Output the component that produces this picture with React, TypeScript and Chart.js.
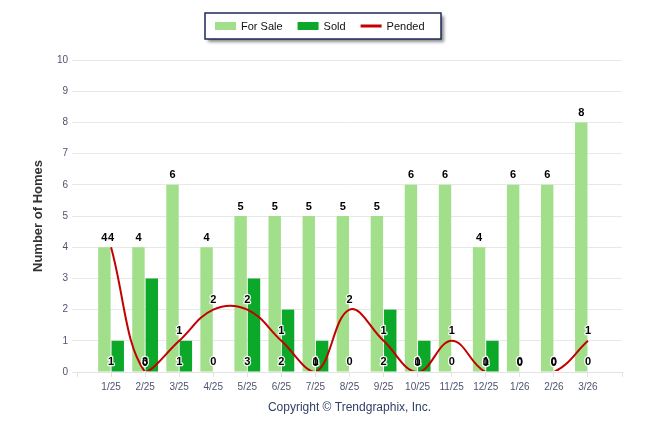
import { useEffect, useRef } from 'react';
import { Chart, registerables } from 'chart.js';

Chart.register(...registerables);

const categories = ['1/25', '2/25', '3/25', '4/25', '5/25', '6/25', '7/25', '8/25', '9/25', '10/25', '11/25', '12/25', '1/26', '2/26', '3/26'];
const forSale = [4, 4, 6, 4, 5, 5, 5, 5, 5, 6, 6, 4, 6, 6, 8];
const sold = [1, 3, 1, 0, 3, 2, 1, 0, 2, 1, 0, 1, 0, 0, 0];
const pended = [4, 0, 1, 2, 2, 1, 0, 2, 1, 0, 1, 0, 0, 0, 1];
const yMin = 0;
const yMax = 10;
const yStep = 1;

const FONT = '"Liberation Sans", Arial, sans-serif';
const pad = (a: number[]) => [null, ...a, null];

const legendPlugin = {
  id: 'boxLegend',
  afterDraw(chart: any) {
    const ctx = chart.ctx;
    const boxL = 205, boxT = 13, boxW = 236, boxH = 26;
    ctx.save();
    ctx.shadowColor = 'rgba(0,0,0,0.45)';
    ctx.shadowOffsetX = 3;
    ctx.shadowOffsetY = 3;
    ctx.shadowBlur = 3;
    ctx.fillStyle = '#ffffff';
    ctx.fillRect(boxL, boxT, boxW, boxH);
    ctx.restore();
    ctx.save();
    ctx.strokeStyle = '#1d2b57';
    ctx.lineWidth = 1.5;
    ctx.strokeRect(boxL, boxT, boxW, boxH);
    ctx.font = `11px ${FONT}`;
    ctx.textBaseline = 'middle';
    ctx.textAlign = 'left';
    let x = boxL + 10;
    const cy = boxT + boxH / 2;
    chart.data.datasets.forEach((ds: any) => {
      if (ds.type === 'line') {
        ctx.strokeStyle = ds.borderColor;
        ctx.lineWidth = 3;
        ctx.beginPath();
        ctx.moveTo(x, cy);
        ctx.lineTo(x + 21, cy);
        ctx.stroke();
      } else {
        ctx.fillStyle = ds.backgroundColor;
        ctx.fillRect(x, cy - 4, 21, 8);
      }
      x += 26;
      ctx.fillStyle = '#111111';
      ctx.fillText(ds.label, x, cy + 0.5);
      x += ctx.measureText(ds.label).width + 15;
    });
    ctx.restore();
  },
};

const labelPlugin = {
  id: 'valueLabels',
  afterDatasetsDraw(chart: any) {
    const ctx = chart.ctx;
    const xs = chart.scales.x;
    const ys = chart.scales.y;
    const items: { t: string; x: number; y: number }[] = [];
    const m0 = chart.getDatasetMeta(0);
    forSale.forEach((v, i) => {
      const el = m0.data[i + 1];
      items.push({ t: String(v), x: el.x, y: ys.getPixelForValue(v) - 9.5 });
    });
    sold.forEach((v, i) => {
      items.push({ t: String(v), x: xs.getPixelForValue(i + 1), y: ys.getPixelForValue(0) - 10 });
    });
    const m2 = chart.getDatasetMeta(2);
    pended.forEach((v, i) => {
      const el = m2.data[i + 1];
      items.push({ t: String(v), x: el.x, y: el.y - 9.5 });
    });
    ctx.save();
    ctx.font = `bold 11px ${FONT}`;
    ctx.textAlign = 'center';
    ctx.textBaseline = 'middle';
    ctx.lineJoin = 'round';
    ctx.strokeStyle = 'rgba(255,255,255,0.9)';
    ctx.lineWidth = 2.5;
    items.forEach((it) => ctx.strokeText(it.t, it.x, it.y));
    ctx.fillStyle = '#000000';
    items.forEach((it) => ctx.fillText(it.t, it.x, it.y));
    ctx.restore();
  },
};

export default function App() {
  const ref = useRef<HTMLCanvasElement>(null);
  useEffect(() => {
    if (!ref.current) return;
    const chart = new Chart(ref.current, {
      type: 'bar',
      data: {
        labels: ['', ...categories, ''],
        datasets: [
          {
            type: 'bar',
            label: 'For Sale',
            data: pad(forSale),
            backgroundColor: '#a1df8b',
            categoryPercentage: 0.784,
            barPercentage: 0.93,
            order: 1,
          },
          {
            type: 'bar',
            label: 'Sold',
            data: pad(sold),
            backgroundColor: '#0ba829',
            categoryPercentage: 0.784,
            barPercentage: 0.93,
            order: 1,
          },
          {
            type: 'line',
            label: 'Pended',
            data: pad(pended),
            borderColor: '#c40000',
            backgroundColor: '#c40000',
            borderWidth: 2,
            tension: 0.4,
            pointRadius: 0,
            fill: false,
            clip: { left: 5, top: 5, right: 5, bottom: -1 },
            order: 0,
          },
        ] as any,
      },
      options: {
        responsive: true,
        maintainAspectRatio: false,
        animation: false,
        layout: { padding: { top: 60, right: 24, bottom: 0, left: 0 } },
        plugins: {
          legend: { display: false },
          tooltip: { enabled: false },
        },
        scales: {
          x: {
            type: 'category',
            offset: false,
            grid: { offset: false, drawOnChartArea: false, color: '#e2e2e2', tickLength: 5 },
            border: { color: '#e2e2e2' },
            ticks: {
              font: { family: FONT, size: 10 },
              color: '#4e5470',
              maxRotation: 0,
              autoSkip: false,
              padding: 4,
            },
            title: {
              display: true,
              text: 'Copyright © Trendgraphix, Inc.',
              color: '#2f3f66',
              font: { family: FONT, size: 12 },
              padding: { top: 0, bottom: 19 },
            },
            afterFit: (s: any) => {
              s.height = 62;
            },
          },
          y: {
            min: yMin,
            max: yMax,
            ticks: {
              stepSize: yStep,
              font: { family: FONT, size: 10 },
              color: '#4e5470',
              padding: 4,
            },
            grid: { color: '#e8e8e8', tickLength: 5 },
            border: { display: false },
            title: {
              display: true,
              text: 'Number of Homes',
              color: '#333333',
              font: { family: FONT, size: 13, weight: 'bold' },
              padding: { top: 31, bottom: 0 },
            },
            afterFit: (s: any) => {
              s.width = 77;
            },
          },
        },
      } as any,
      plugins: [labelPlugin, legendPlugin],
    });
    return () => chart.destroy();
  }, []);
  return (
    <div style={{ position: 'fixed', left: 0, top: 0, width: 646, height: 434, background: '#fff' }}>
      <canvas ref={ref} />
    </div>
  );
}
